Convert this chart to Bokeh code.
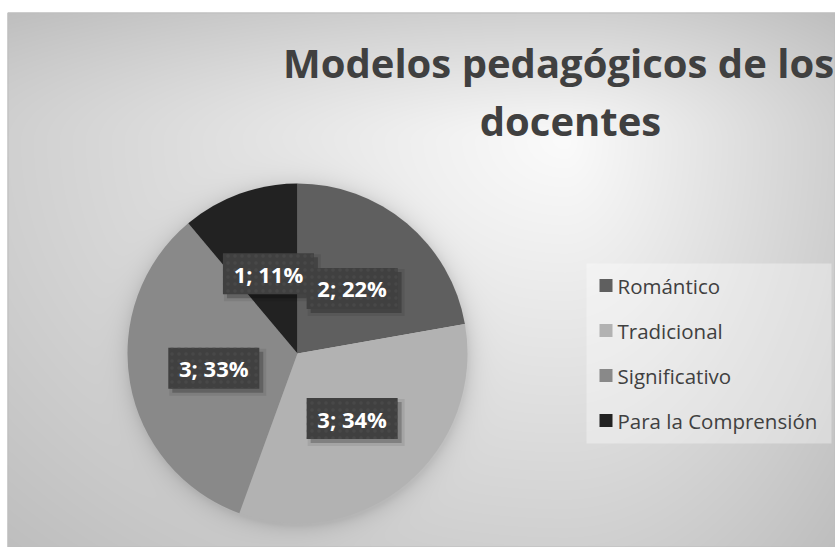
import numpy as np
from bokeh.plotting import figure
from bokeh.models import Range1d, ColumnDataSource
from bokeh.core.properties import value
from bokeh.embed import file_html
from bokeh.resources import INLINE

# ---- data ----
categories = ["Romántico", "Tradicional", "Significativo", "Para la Comprensión"]
counts = [2, 3, 3, 1]
percents = [22, 34, 33, 11]
colors = ["#5f5f5f", "#b2b2b2", "#898989", "#222222"]
title_lines = ["Modelos pedagógicos de los", "docentes"]

W, H = 835, 547


def px(x):
    return x


def py(y):
    return H - y


p = figure(width=W, height=H, x_range=Range1d(0, W), y_range=Range1d(0, H),
           output_backend="svg", toolbar_location=None, min_border=0)
p.axis.visible = False
p.grid.visible = False
p.outline_line_color = None
p.background_fill_color = "white"
p.border_fill_color = "white"

# ---- background gradient + pie shadow (image) ----
cx_pg, cy_pg, R = 297.0, 353.0, 170.0
X0, Y0 = 7, 12
IW, IH = W - X0, H - Y0
jj, ii = np.mgrid[0:IH, 0:IW]
page_x = X0 + ii + 0.5
page_y = H - (jj + 0.5)
gx, gy = 565.0, 140.0
dx = page_x - gx
dy = page_y - gy
ux = np.where(dx < 0, dx / 558.0, dx / 270.0)
uy = np.where(dy < 0, dy / 128.0, dy / 407.0)
t = np.clip(np.sqrt(ux ** 2 + uy ** 2), 0, 1.45)
gray = 251 - 43 * t
dist = np.sqrt((page_x - cx_pg - 1) ** 2 + (page_y - cy_pg - 2) ** 2) - R
shade = np.where(dist > 0, 26 * np.exp(-dist / 9.0), 26)
gray = np.clip(gray - shade, 0, 255).astype(np.uint32)
img = (255 << 24) | (gray << 16) | (gray << 8) | gray
img = img.astype(np.uint32)
p.image_rgba(image=[img], x=X0, y=0, dw=IW, dh=IH)

# chart border
p.quad(left=X0 + 0.5, right=W - 0.5, bottom=0.5, top=py(Y0) - 0.5, fill_color=None,
       line_color="#bdbdbd", line_width=1)

# ---- pie ----
total = float(sum(counts))
fracs = [c / total for c in counts]
cum = np.concatenate([[0.0], np.cumsum(fracs)])
start = [np.pi / 2 - cum[k] * 2 * np.pi for k in range(len(counts))]
end = [np.pi / 2 - cum[k + 1] * 2 * np.pi for k in range(len(counts))]
pie_src = ColumnDataSource(dict(start=start, end=end, color=colors, cat=categories))
p.wedge(x=px(cx_pg), y=py(cy_pg), radius=R, start_angle="start", end_angle="end",
        direction="clock", fill_color="color", line_color=None, source=pie_src)

# ---- data labels ----
mid = [(s + e) / 2 for s, e in zip(start, end)]
label_ang = list(mid)
label_ang[3] = np.deg2rad(110)  # moved by the layout to avoid overlap
lr = 0.5 * R
lx = [px(cx_pg) + lr * np.cos(a) for a in label_ang]
ly = [py(cy_pg) + lr * np.sin(a) for a in label_ang]
ltxt = [f"{c}; {pc}%" for c, pc in zip(counts, percents)]
lab_src = ColumnDataSource(dict(x=lx, y=ly, sx=[v + 4 for v in lx], sy=[v - 4 for v in ly], txt=ltxt))
p.rect(x="sx", y="sy", width=97, height=47, width_units="screen", height_units="screen",
       fill_color="black", fill_alpha=0.08, line_color=None, source=lab_src)
p.rect(x="sx", y="sy", width=91, height=41, width_units="screen", height_units="screen",
       fill_color="black", fill_alpha=0.22, line_color=None, source=lab_src)
p.rect(x="x", y="y", width=91, height=41, width_units="screen", height_units="screen",
       fill_color="#404040", line_color=None, hatch_pattern="dot", hatch_color="#4a4a4a",
       hatch_alpha=0.8, hatch_scale=7, hatch_weight=1, source=lab_src)
p.text(x="x", y="y", text="txt", text_align="center", text_baseline="middle",
       text_font=value("Open Sans"), text_font_style="bold", text_font_size="22px",
       text_color="white", source=lab_src)

# ---- legend ----
p.quad(left=px(586), right=px(831), bottom=py(443), top=py(263), fill_color="white",
       fill_alpha=0.35, line_color=None)
leg_y = [py(285 + 45 * k) for k in range(len(categories))]
leg_src = ColumnDataSource(dict(x=[px(605.5)] * len(categories), tx=[px(617)] * len(categories),
                                y=leg_y, color=colors, cat=categories))
p.rect(x="x", y="y", width=13, height=13, width_units="screen", height_units="screen",
       fill_color="color", line_color=None, source=leg_src)
p.text(x="tx", y="y", text="cat", text_align="left", text_baseline="middle",
       text_font=value("Open Sans"), text_font_size="20.5px", text_color="#404040",
       source=leg_src)

# ---- title ----
p.text(x=[px(558), px(570)], y=[py(62), py(120)], text=title_lines, text_align="center",
       text_baseline="alphabetic", text_font=value("Open Sans"), text_font_style="bold",
       text_font_size="40px", text_color="#404040")

open("out.html", "w").write(file_html(p, INLINE))
